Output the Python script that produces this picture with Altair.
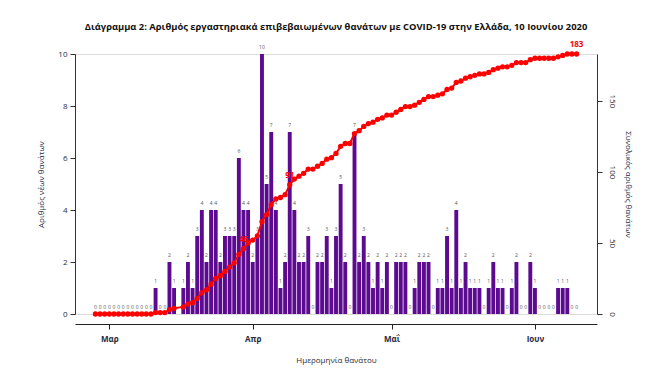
import altair as alt
import pandas as pd

# ---- data ----
start_date = "2020-02-27"
end_date = "2020-06-10"
daily_feb = [0, 0, 0]  # Feb 27-29
daily_mar = [0, 0, 0, 0, 0, 0, 0, 0, 0, 0,
             1, 0, 0, 2, 1, None, 1, 2, 1, 3,
             4, 2, 4, 4, 2, 3, 3, 3, 6, 4, 4]
daily_apr = [2, 3, 10, 5, 7, 4, 1, 2, 7, 4,
             2, 2, 3, 0, 2, 2, 3, 1, 3, 5,
             2, 0, 7, 2, 3, 2, 1, 2, 1, 2]
daily_may = [0, 2, 2, 2, 0, 1, 2, 2, 2, 0,
             1, 1, 3, 1, 4, 1, 2, 1, 1, 1,
             0, 1, 2, 1, 1, 0, 1, 2, 0, 0, 2]
daily_jun = [1, 0, 0, 0, 0, 1, 1, 1, 0, 0]
labelled_dates = ["2020-03-30", "2020-04-09", "2020-06-10"]
month_names = ["Ιαν", "Φεβ", "Μαρ", "Απρ", "Μαΐ", "Ιουν", "Ιουλ"]

title_text = "Διάγραμμα 2: Αριθμός εργαστηριακά επιβεβαιωμένων θανάτων με COVID-19 στην Ελλάδα, 10 Ιουνίου 2020"

daily = daily_feb + daily_mar + daily_apr + daily_may + daily_jun
dates = pd.date_range(start_date, end_date, freq="D")
df = pd.DataFrame({"date": dates, "daily": daily}).dropna()
df["daily"] = df["daily"].astype(int)
df["cum"] = df["daily"].cumsum()
df["lab"] = df["date"].dt.strftime("%Y-%m-%d").isin(labelled_dates)
df["date"] = df["date"].dt.strftime("%Y-%m-%dT%H:%M:%S")

PURPLE = "#5c0a8f"
RED = "#ff0000"
TXT = "#2a2a3a"
FONT = "Open Sans"

xscale = alt.Scale(domain=[alt.DateTime(year=2020, month=2, date=22, hours=14),
                           alt.DateTime(year=2020, month=6, date=14, hours=10)],
                   nice=False, padding=0)
xaxis = alt.Axis(
    title="Ημερομηνία θανάτου",
    values=[alt.DateTime(year=2020, month=m, date=1) for m in [3, 4, 5, 6]],
    labelExpr="%s[month(datum.value)]" % str(month_names),
    grid=False, offset=10, tickSize=5, labelPadding=6, titlePadding=13,
    labelFontSize=8, labelFontWeight="bold", titleFontSize=8, titleFontWeight="normal",
    domainColor="#222", tickColor="#222", labelColor=TXT, titleColor=TXT,
    labelFont=FONT, titleFont=FONT,
)
x = alt.X("date:T", scale=xscale, axis=xaxis)

base = alt.Chart(df)

yleft = alt.Y("daily:Q", scale=alt.Scale(domain=[0, 10], nice=False),
              axis=alt.Axis(title="Αριθμός νέων θανάτων", values=[0, 2, 4, 6, 8, 10],
                            grid=False, tickSize=5, labelPadding=3, titlePadding=12,
                            labelFontSize=8, titleFontSize=8, titleFontWeight="normal",
                            domainColor="#333", tickColor="#333", labelColor=TXT, titleColor=TXT,
                            labelFont=FONT, titleFont=FONT))
bars = base.mark_bar(width=3.9, color=PURPLE).encode(x=x, y=yleft)
bar_labels = base.mark_text(dy=-7, fontSize=5, color="#555", font=FONT).encode(
    x=x, y=yleft, text="daily:Q")

yright = alt.Y("cum:Q", scale=alt.Scale(domain=[0, 183], nice=False),
               axis=alt.Axis(orient="right", title="Συνολικός αριθμός θανάτων",
                             values=[0, 50, 100, 150], grid=False, tickSize=5,
                             labelAngle=90, labelAlign="center", labelBaseline="middle",
                             labelPadding=9, titlePadding=8,
                             labelFontSize=8, titleFontSize=8, titleFontWeight="normal",
                             domainColor="#333", tickColor="#333", labelColor=TXT,
                             titleColor=TXT, labelFont=FONT, titleFont=FONT))
line = base.mark_line(color=RED, strokeWidth=2).encode(x=x, y=yright)
pts = base.mark_circle(color=RED, size=28, opacity=1).encode(x=x, y=yright)
cum_labels = base.transform_filter("datum.lab").mark_text(
    dy=-9, fontSize=8, fontWeight="bold", color=RED, font=FONT).encode(
    x=x, y=yright, text="cum:Q")

left = alt.layer(bars, bar_labels)
right = alt.layer(line, pts, cum_labels)

chart = alt.layer(left, right).resolve_scale(y="independent").properties(
    width=522, height=260,
    autosize=alt.AutoSizeParams(type="none"),
    padding={"left": 67, "top": 46, "right": 50, "bottom": 60},
    title=alt.TitleParams(title_text, fontSize=9.4, fontWeight="bold", font=FONT,
                          color="#111", anchor="middle", offset=9),
).configure_view(stroke=None).configure(background="white")

chart.save("out.html", embed_options={"renderer": "svg", "actions": False})
